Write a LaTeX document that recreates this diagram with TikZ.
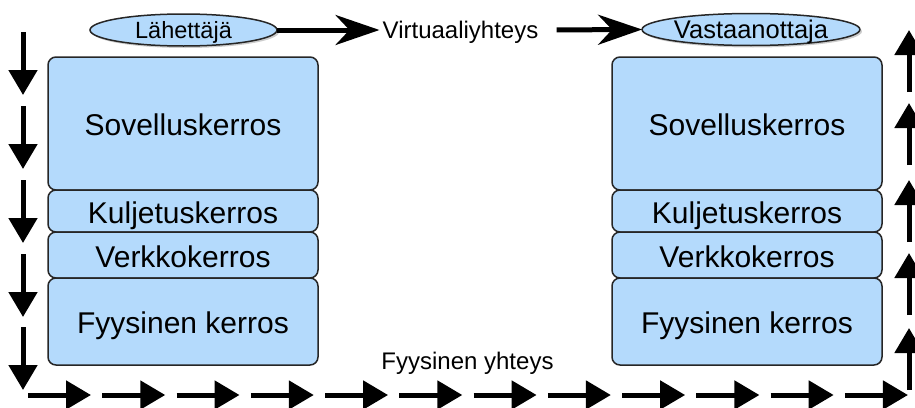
\documentclass[tikz,border=0pt]{standalone}
\usepackage{fontspec}
\setmainfont{Liberation Sans}
\usetikzlibrary{arrows.meta,positioning,shapes.geometric,shadows}
\definecolor{layerblue}{RGB}{180,218,252}

\begin{document}
\begin{tikzpicture}[
    x=1pt, y=-1pt,
    node distance=0pt,
    layerbox/.style={draw=black!85, line width=1.5pt, rounded corners=8pt, fill=layerblue, minimum width=270pt, inner sep=0pt, outer sep=0pt, text height=24pt, text depth=0pt, font=\fontsize{30}{36}\selectfont},
    hostnode/.style={ellipse, draw=black!85, line width=1.5pt, fill=layerblue, minimum width=187pt, minimum height=32pt, inner sep=0pt, outer sep=0pt, text height=17pt, text depth=0pt, drop shadow={shadow xshift=2pt, shadow yshift=-2pt, opacity=0.4}},
    virtarrow/.style={-{Stealth[length=44pt, width=30pt, inset=14pt]}, line width=5pt},
    patharrow/.style={-{Triangle[length=25pt, width=28pt]}, line width=5pt},
    labeltext/.style={font=\fontsize{24}{28}\selectfont, inner sep=3pt, text height=17pt, text depth=0pt}
]
\useasboundingbox (0,0) rectangle (915,407);

% Sender stack
\node[layerbox, minimum height=133pt] (sovL) at (183,123.5) {Sovelluskerros};
\node[layerbox, minimum height=42pt, below=of sovL] (kulL) {Kuljetuskerros};
\node[layerbox, minimum height=46pt, below=of kulL] (verL) {Verkkokerros};
\node[layerbox, minimum height=87pt, below=of verL] (fyyL) {Fyysinen kerros};

% Receiver stack
\node[layerbox, minimum height=133pt] (sovR) at (747,123.5) {Sovelluskerros};
\node[layerbox, minimum height=42pt, below=of sovR] (kulR) {Kuljetuskerros};
\node[layerbox, minimum height=46pt, below=of kulR] (verR) {Verkkokerros};
\node[layerbox, minimum height=87pt, below=of verR] (fyyR) {Fyysinen kerros};

% Hosts and virtual connection
\node[hostnode, font=\fontsize{23.5}{28}\selectfont] (lah) at (183.5,30) {Lähettäjä};
\node[hostnode, font=\fontsize{25.5}{30}\selectfont] (vast) at (751,29.5) {Vastaanottaja};
\node[labeltext] (virt) at (460.5,30) {Virtuaaliyhteys};
\draw[virtarrow] (lah.east) -- (virt.west);
\draw[virtarrow, shorten <=15pt] (virt.east) -- (vast.west);

% Physical connection
\node[labeltext] (fyht) at (467.5,361) {Fyysinen yhteys};
\foreach \y [count=\i] in {32,106,180,254,327} {
  \coordinate (dn\i a) at (23,\y);
  \coordinate (dn\i b) at (23,\y+63);
  \draw[patharrow] (dn\i a) -- (dn\i b);
}
\foreach \i in {0,...,11} {
  \coordinate (bt\i a) at (28+74.27*\i,395);
  \coordinate (bt\i b) at (91+74.27*\i,395);
  \draw[patharrow] (bt\i a) -- (bt\i b);
}
\foreach \y [count=\i] in {390,315,242,165,92} {
  \coordinate (up\i a) at (909,\y);
  \coordinate (up\i b) at (909,\y-62);
  \draw[patharrow] (up\i a) -- (up\i b);
}
\end{tikzpicture}
\end{document}
